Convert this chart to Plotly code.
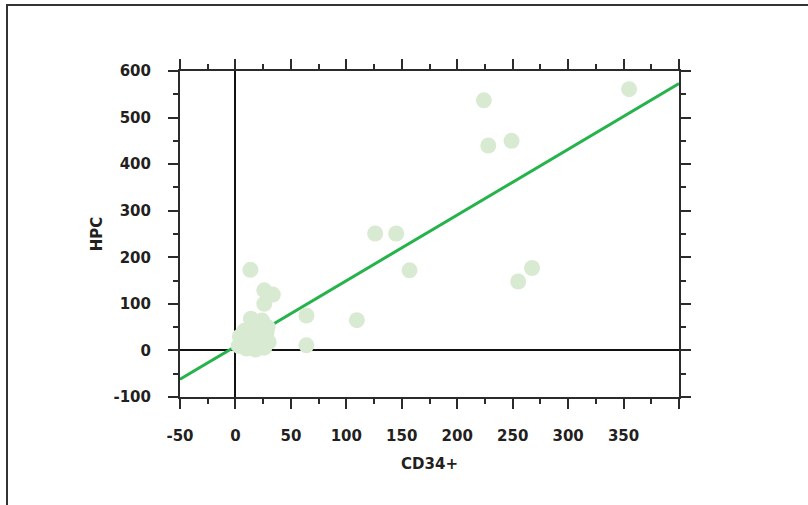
import plotly.graph_objects as go

# Data
cd34 = [355, 224, 228, 249, 267.5, 255, 126, 145, 157, 109.5, 64, 64,
        13.5, 26, 33.7, 26,
        14, 24, 19, 8, 28, 4, 16, 22, 30, 3, 10, 18, 26, 12, 6, 20, 29]
hpc = [561, 537, 440, 450, 177, 148, 251, 251, 172, 65, 75, 11,
       173, 129, 120, 100,
       68, 64, 55, 42, 38, 30, 30, 20, 18, 10, 4, 2, 6, 15, 20, 40, 50]

fit_slope = 1.411
fit_intercept = 8.6
x_range = [-50, 400]
y_range = [-100, 600]

x_tickvals = [-50, 0, 50, 100, 150, 200, 250, 300, 350, 400]
x_ticktext = ["-50", "0", "50", "100", "150", "200", "250", "300", "350", ""]
y_tickvals = [-100, 0, 100, 200, 300, 400, 500, 600]
y_ticktext = ["-100", "0", "100", "200", "300", "400", "500", "600"]

fit_x = x_range
fit_y = [fit_intercept + fit_slope * v for v in fit_x]

axis_color = "#2b2b2b"
text_color = "#231f20"

fig = go.Figure()
fig.add_trace(go.Scatter(x=fit_x, y=fit_y, mode="lines",
                         line=dict(color="#27b34b", width=3),
                         showlegend=False, hoverinfo="skip"))
fig.add_trace(go.Scatter(x=cd34, y=hpc, mode="markers",
                         marker=dict(color="#d8ebd2", size=16, line=dict(width=0)),
                         showlegend=False))

L, R, T, B = 180, 129, 71, 108
W, H = 808, 505
pw = W - L - R
ph = H - T - B

common = dict(showgrid=False, zeroline=True, zerolinecolor="#111111", zerolinewidth=2,
              showline=True, linecolor=axis_color, linewidth=2, mirror="allticks",
              ticks="outside", ticklen=10, tickwidth=2, tickcolor=axis_color,
              tickfont=dict(family="DejaVu Sans", size=15, color=text_color, weight="bold"))

fig.update_xaxes(range=x_range, tickmode="array", tickvals=x_tickvals, ticktext=x_ticktext,
                 minor=dict(dtick=25, tick0=0, ticklen=5, tickwidth=2, tickcolor=axis_color,
                            ticks="outside", showgrid=False),
                 title=dict(text="CD34+", standoff=14,
                            font=dict(family="DejaVu Sans", size=15, color=text_color, weight="bold")),
                 ticklabelstandoff=14,
                 **common)
fig.update_yaxes(range=y_range, tickmode="array", tickvals=y_tickvals, ticktext=y_ticktext,
                 minor=dict(dtick=50, tick0=0, ticklen=5, tickwidth=2, tickcolor=axis_color,
                            ticks="outside", showgrid=False),
                 title=dict(text="HPC", standoff=7,
                            font=dict(family="DejaVu Sans", size=15, color=text_color, weight="bold")),
                 ticklabelstandoff=14,
                 **common)

# outer frame lines (top and left), in paper coordinates outside plot area
def px_to_paper_x(px):
    return (px - L) / pw

def py_to_paper_y(py):
    return (H - B - py) / ph

fig.add_shape(type="line", xref="paper", yref="paper",
              x0=px_to_paper_x(6), x1=px_to_paper_x(812),
              y0=py_to_paper_y(5), y1=py_to_paper_y(5),
              line=dict(color="#333333", width=2))
fig.add_shape(type="line", xref="paper", yref="paper",
              x0=px_to_paper_x(7), x1=px_to_paper_x(7),
              y0=py_to_paper_y(5), y1=py_to_paper_y(510),
              line=dict(color="#333333", width=2))

fig.update_layout(width=W, height=H, margin=dict(l=L, r=R, t=T, b=B, autoexpand=False),
                  plot_bgcolor="white", paper_bgcolor="white", hovermode=False)

fig.write_html("out.html", config={"displayModeBar": False, "staticPlot": True},
               post_script="document.body.style.margin='0px';document.body.style.overflow='hidden';")
